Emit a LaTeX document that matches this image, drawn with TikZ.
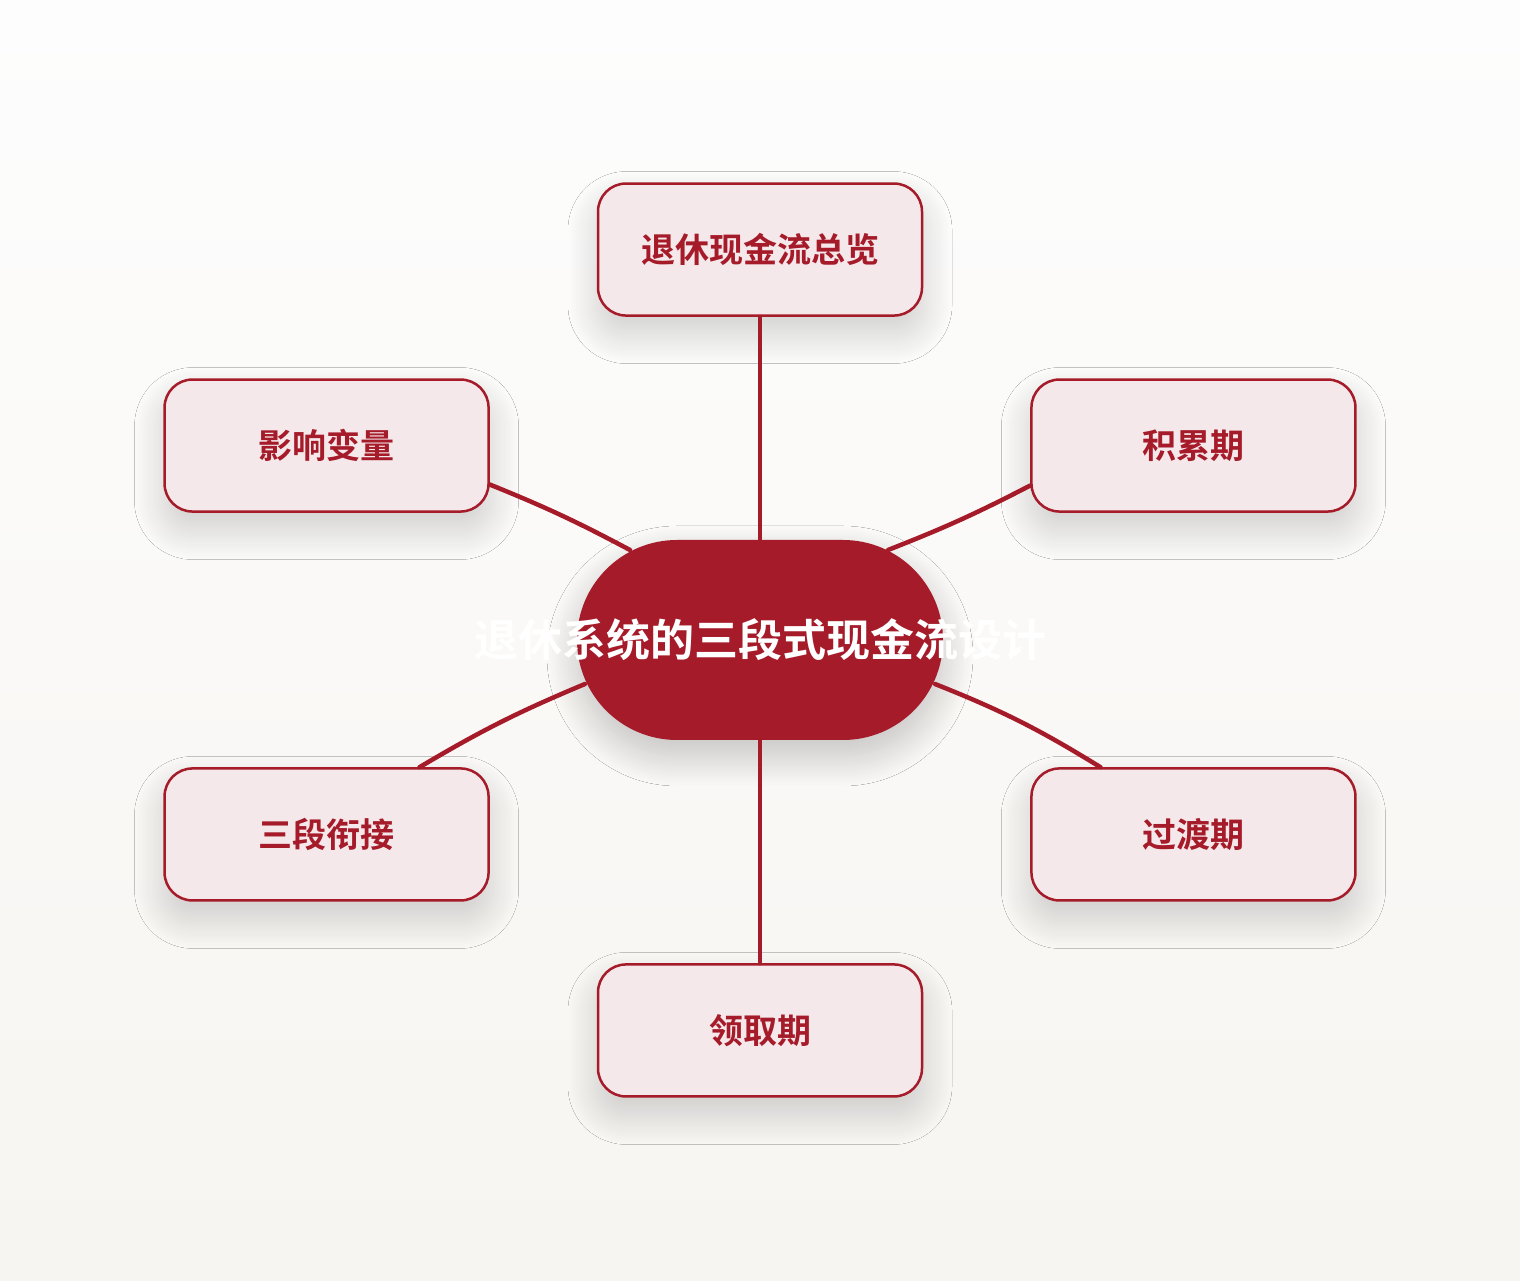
\documentclass[tikz,border=0pt]{standalone}
\usepackage{fontspec}
\setmainfont{Noto Sans CJK SC}[BoldFont = * Bold]
\usepackage{xcolor}
\usepackage{tikz}
\usetikzlibrary{calc}
\usetikzlibrary{positioning}
\usetikzlibrary{shadows.blur}

\definecolor{hubred}{HTML}{A51B29}
\definecolor{stagefill}{HTML}{F5E8EB}
\definecolor{bgtop}{HTML}{FDFDFD}
\definecolor{bgbottom}{HTML}{F7F5F1}

\begin{document}
\begin{tikzpicture}
[
	x = 1pt, y = 1pt,
	hub/.style = {rectangle, rounded corners = 100pt, fill = hubred, minimum width = 366pt, minimum height = 200pt, inner sep = 0pt, text = white, font = \fontsize{44}{50}\selectfont\bfseries, blur shadow = {shadow xshift = 0pt, shadow yshift = -16pt, shadow blur radius = 30pt, shadow blur steps = 25, shadow opacity = 22}},
	stage/.style = {rectangle, rounded corners = 28pt, draw = hubred, line width = 2.5pt, fill = stagefill, minimum width = 324pt, minimum height = 132pt, inner sep = 0pt, text = hubred, font = \fontsize{34}{40}\selectfont\bfseries, blur shadow = {shadow xshift = 0pt, shadow yshift = -18pt, shadow blur radius = 30pt, shadow blur steps = 25, shadow opacity = 18}},
	link/.style = {draw = hubred, line width = 4.5pt, line cap = round},
	node distance = 27pt and 87pt,
]

	% background
	\fill [top color = bgtop, bottom color = bgbottom] (0,0) rectangle (1520,1280);
	\useasboundingbox (0,0) rectangle (1520,1280);

	% centre
	\node (hub) [hub] at (760,640) {\makebox[0pt]{退休系统的三段式现金流设计}};

	% stages
	\node (overview) [stage, above = 223pt of hub] {退休现金流总览};
	\node (payout) [stage, below = 223pt of hub] {领取期};
	\node (vars) [stage, above left = of hub] {影响变量};
	\node (accum) [stage, above right = of hub] {积累期};
	\node (links) [stage, below left = of hub] {三段衔接};
	\node (trans) [stage, below right = of hub] {过渡期};

	% connectors
	\draw [link] (hub.north) -- (overview.south);
	\draw [link] (hub.south) -- (payout.north);
	\draw [link] ($(vars.east)+(0,-39)$) to [bend left = 3] ($(hub.center)+(-130,90)$);
	\draw [link] ($(accum.west)+(0,-40)$) to [bend left = 3] ($(hub.center)+(128,90)$);
	\draw [link] ($(links.north)+(93,0)$) to [bend left = 4] ($(hub.center)+(-175,-44)$);
	\draw [link] ($(trans.north)+(-93,0)$) to [bend right = 5] ($(hub.center)+(175,-44)$);

\end{tikzpicture}
\end{document}
